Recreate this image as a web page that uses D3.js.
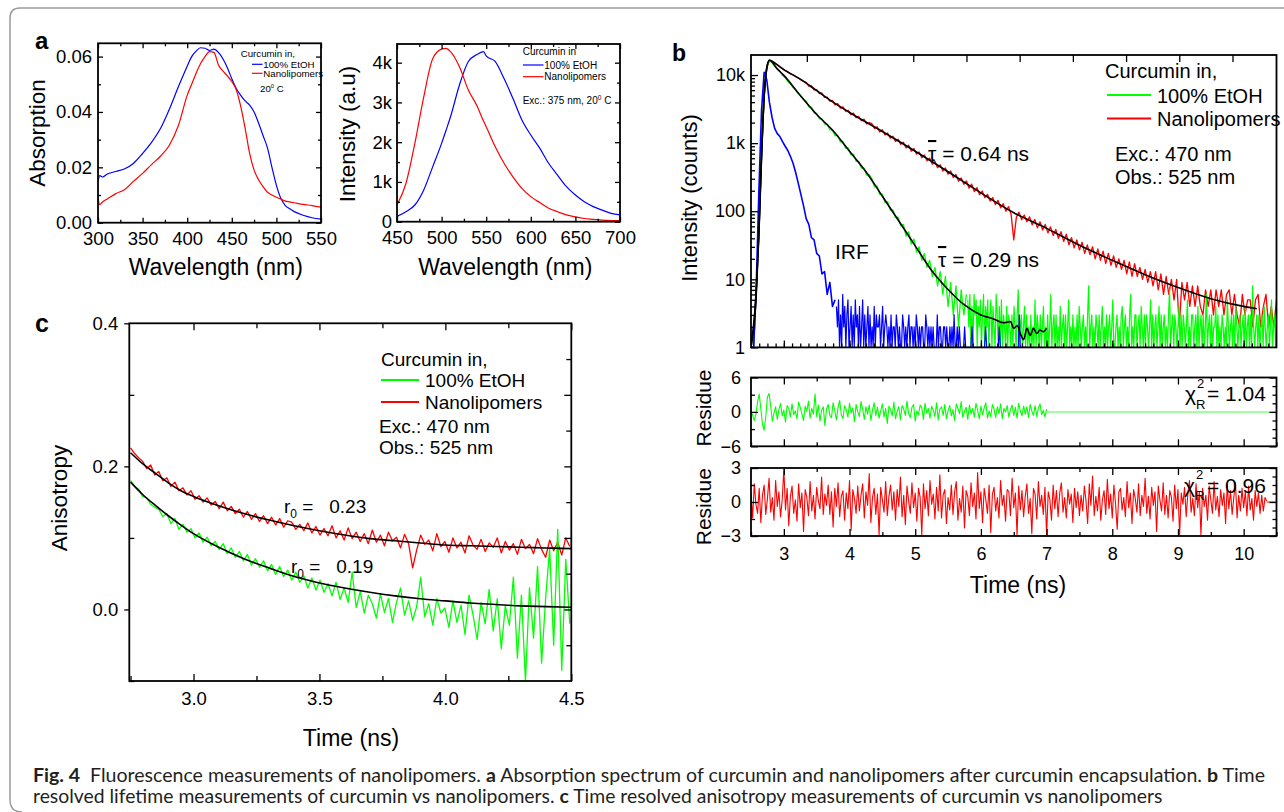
<!DOCTYPE html>
<html>
<head>
<meta charset="utf-8">
<script src="https://cdn.jsdelivr.net/npm/d3@7"></script>
<style>
body { margin: 0; background: #fff; }
svg text { font-family: "Liberation Sans", Arial, sans-serif; fill: #000; }
svg text.cap { font-family: Lato, "Open Sans", sans-serif; fill: #231f20; }
</style>
</head>
<body>
<script>
// ---------- DATA ----------
// a (left): absorption spectra
const absWl = [300,302,305,310,320,330,340,350,360,370,380,390,400,405,410,415,420,425,430,435,440,445,450,455,460,465,470,475,480,485,490,495,500,505,510,515,520,530,540,550];
const absEtOH = [0.0148,0.0170,0.0165,0.0175,0.0185,0.0195,0.0215,0.0250,0.0290,0.0340,0.0410,0.0490,0.0565,0.0600,0.0620,0.0632,0.0630,0.0622,0.0627,0.0615,0.0592,0.0560,0.0520,0.0485,0.0460,0.0440,0.0425,0.0400,0.0360,0.0315,0.0270,0.0200,0.0135,0.0088,0.0062,0.0050,0.0040,0.0027,0.0018,0.0013];
const absNano = [0.0090,0.0065,0.0075,0.0085,0.0105,0.0120,0.0150,0.0178,0.0210,0.0240,0.0280,0.0350,0.0460,0.0500,0.0540,0.0575,0.0600,0.0618,0.0615,0.0570,0.0548,0.0530,0.0510,0.0480,0.0420,0.0340,0.0250,0.0190,0.0155,0.0130,0.0110,0.0100,0.0092,0.0085,0.0078,0.0075,0.0072,0.0066,0.0062,0.0056];

// a (right): emission spectra
const emWl = [450,460,470,480,490,500,505,510,520,530,540,547,550,560,570,580,590,600,610,620,630,640,650,660,670,680,690,700];
const emEtOH = [130,250,420,800,1380,1970,2300,2640,3440,4030,4210,4280,4170,4030,3600,3100,2560,2180,1850,1470,1170,880,670,500,380,290,210,170];
const emNano = [420,960,1970,3140,4100,4340,4360,4280,3900,3310,2900,2530,2390,1890,1470,1130,840,630,480,340,250,170,120,80,60,40,30,25];

// b: decay histograms, channel grid starting at decayT0 with width decayDt (ns)
const decayT0 = 2.50, decayDt = 0.04;
const nanoCounts = [0,1,6,45,600,4800,12500,16500,
15800,14700,14200,13100,12400,11600,11200,10400,10100,9500,9050,8450,8050,
7800,6900,6950,6050,6100,5350,5450,4700,4750,4150,4230,3650,
3800,3270,3400,2940,3020,2620,2760,2360,2460,2130,2250,1920,2000,
1930,1640,1740,1460,1570,1320,1410,1180,1260,1060,1140,960,
1030,850,930,760,835,690,740,610,670,550,600,490,
540,435,480,390,432,350,390,312,346,276,308,248,
278,218,250,194,222,175,198,158,177,141,159,125,
145,112,129,100,117,90,38,82,97,75,88,70,
83,63,76,57,70,53,64,48,59,44,54,40,
50,36,46,32,41,29,38,27,35,24,32,23,
30,20,28,19,26,17,24,16,22,15,20,14,
19,12,18,11,17,11,15,10,14,9,13,8,
13,7,12,6,11,6,10,5,10,2,9,5,
9,4,8,4,8,4,3,7,4,7,3,7,
4,7,3,6,7,3,6,3,2,6,3,5,
5,2,5,6,2,4,6,2,4,2,5];
const etohCounts = [0,1,7,50,650,5000,13000,16500,
15100,13600,12200,11300,9900,9150,8050,7450,6550,6050,5350,4950,4350,
4150,3400,3380,2770,2740,2290,2280,1910,1900,1580,1540,1290,
1300,1040,1060,840,850,680,690,540,540,430,432,340,344,
300,228,235,176,178,134,138,104,105,81,82,61,
64,43,50,33,39,25,30,19,24,15,19,11,
15,8,13,6,11,4,9,3,8,2,7,3,
6];
const irfCounts = [0,1,8,200,3000,11000,8500,4000,2400,1650,1380,1250,1050,900,780,640,508,370,256,
175,120,78,64,41,38,24,22,12,13,6,9,4,5];

// b: background-level tails recorded on a finer channel grid
const etohFloorT0 = 5.80, irfFloorT0 = 3.80, floorDt = 0.016;
const etohFloor = [5,2,6,1,4,0,6,3,5,0,4,2,5,0,3,6,0,4,2,5,
0,3,5,0,4,2,0,6,3,0,4,1,5,0,3,2,0,4,0,3,
2,0,3,0,4,2,0,3,7,0,2,3,0,2,4,0,3,0,2,0,
3,0,2,0,5,0,3,2,0,3,0,2,4,0,2,0,3,0,2,6,
0,2,3,0,3,0,2,0,4,0,2,3,0,3,0,2,5,0,2,0,
3,0,2,0,3,0,4,2,0,2,3,0,2,0,3,8,0,2,3,0,
2,0,3,2,0,3,0,2,4,0,2,0,3,0,2,3,0,2,5,0,
0,2,3,0,2,0,3,4,0,2,3,0,2,0,3,6,0,2,0,3,
3,0,2,3,0,4,2,0,3,0,3,2,0,2,5,0,3,0,2,3,
0,2,4,0,3,0,2,3,0,2,0,3,7,0,2,3,0,3,2,0,
2,4,0,3,0,3,2,0,2,5,0,2,0,3,3,0,2,3,0,4,
0,2,3,0,3,0,2,6,0,2,3,0,3,0,2,2,4,0,3,0,
2,0,3,2,0,2,0,5,2,0,2,3,0,3,0,4,2,0,2,3,
0,2,3,0,4,0,2,3,0,3,0,8,2,0,2,3,0,3,0,2,
3,0,4,2,0,2,3,0,2,5,0,2,3,0];
const irfFloor = [4,2,5,1,3,0,6,2,4,1,3,5,0,2,4,1,3,0,5,2,
3,1,4,0,2,5,1,3,0,2,4,1,3,0,2,1,4,0,3,2,
2,3,0,2,4,0,2,3,2,0,2,1,3,0,2,2,0,3,2,0,
2,1,0,3,2,0,2,0,2,3,0,2,2,0,2,0,3,2,0,2,
0,2,2,0,0,3,2,0,2,0,2,0,2,1,0,0,3,0,2,2,
0,0,2,2,0,2,0,0,2,0,2,0,3,0,0,2,0,2,0,0,
1,0,2,0,0,1,0,0,0,2,0,1,0,0,0,0,1,0,0,0,
0,0,2,0,0,0,0,0,1,0,0,0,0,0,0,2,0,0,0,0,
0,0,0,0,0,1,0,0,0,0,0,0,0,0,3,0,0,0,0,0,
0,0];

// b: fitted decays
const nanoFitT = [2.50,2.58,2.62,2.66,2.70,2.74,2.78,2.90,3.00,3.25,3.50,3.75,4.00,4.50,5.00,5.50,6.00,6.50,7.00,7.50,8.00,8.50,9.00,9.50,10.00,10.20];
const nanoFitV = [1,6,45,600,4800,12500,16500,14100,12000,8700,5900,4000,2820,1480,760,380,186,95,56,31.6,19,11.7,7.6,5.2,4.0,3.7];
const etohFitT = [2.50,2.58,2.62,2.66,2.70,2.74,2.78,2.90,3.00,3.25,3.50,3.75,4.00,4.25,4.50,4.75,5.00,5.25,5.50,5.75,6.00,6.20,6.35,6.45,6.50,6.55,6.60,6.65,6.70,6.75,6.80,6.85,6.90,6.95,7.00];
const etohFitV = [1,7,50,650,5000,13000,16500,12300,9900,5000,2630,1520,760,380,166,72,31,13.5,7.1,4.2,3.0,2.6,2.3,2.4,1.9,2.1,1.6,1.3,1.9,1.5,1.9,1.6,1.8,1.7,1.9];

// b: weighted residues
const resT0 = 2.50, resDt = 0.025;
const etohRes = [0.2,-0.6,-1.5,-0.4,1.8,3.1,0.5,-2.2,-3.2,-0.8,2.6,3.2,1.0,
-1.6,-0.2,0.9,-1.3,0.4,1.5,-0.7,0.3,-1.8,1.1,0.6,-0.9,
1.4,-0.5,0.2,-1.2,1.7,0.8,-0.3,-1.5,1.0,0.1,1.9,-1.1,
0.6,-0.4,3.1,-0.8,1.2,-1.6,0.3,0.9,-2.4,0.5,1.3,-0.6,
-1.0,1.6,0.2,-1.4,0.8,2.0,-0.5,-1.2,1.1,0.4,-0.9,1.5,
-0.2,0.7,-1.7,1.3,0.0,-0.8,1.8,0.5,-1.3,0.9,-0.4,1.2,
-1.5,0.3,1.6,-0.6,0.8,-1.1,0.2,1.4,-0.9,0.6,-2.0,1.0,
0.4,-0.7,1.7,-1.2,0.1,0.9,-1.4,1.1,0.5,-0.6,1.9,-0.3,
-1.0,0.8,1.3,-1.6,0.2,-0.5,1.2,0.7,-1.3,1.5,-0.2,0.6,
-1.1,1.0,0.3,-0.8,1.6,-1.4,0.5,0.9,-0.6,1.3,-1.2,0.2,
1.1,-0.7,0.4,-1.5,1.4,0.6,-0.3,1.8,-1.0,0.1,0.8,-1.3,
1.2,-0.4,0.6,-0.9,1.5,0.3,-1.2,1.0,-0.5,0.7,1.6,-1.1,
0.2,-0.8,1.3,0.5,-1.0,0.9,-0.3,1.4,-1.2,0.6,0.0,1.1,
-0.9,0.4,1.2,-0.6,0.8,-1.1,1.5,0.2,-0.7,1.0,-0.4,0.9,
-1.0,1.3,0.1,-0.6,1.1,-0.8,0.7,1.4,-0.5,0.3,-0.9,0.5];
const nanoRes = [0.8,-1.4,1.6,-0.2,-1.0,1.2,-1.8,0.6,1.5,-1.1,0.3,2.1,-0.9,0.4,-1.6,
1.9,-0.4,0.9,-1.3,0.2,2.9,-0.7,1.2,-2.1,0.5,1.4,-1.0,0.2,-1.7,1.6,
-0.5,0.8,-2.6,1.1,0.4,-1.2,1.8,-0.8,0.6,-1.5,1.3,0.1,-0.6,2.2,-1.1,
0.7,-0.3,1.5,-1.1,0.9,-2.2,1.2,-0.4,1.7,-1.3,0.5,1.0,-1.6,0.8,-0.6,
1.9,-2.5,1.1,0.3,-1.0,1.4,-0.8,0.6,1.6,-1.4,0.9,-0.3,2.5,-1.8,0.4,
1.2,-1.1,0.7,-2.9,1.3,0.2,-0.9,1.8,-1.2,0.5,1.5,-0.7,0.9,-1.6,1.1,
-0.4,2.2,-1.3,0.6,-2.0,1.4,0.1,-1.0,1.7,-0.5,0.8,-1.7,1.2,0.4,-2.9,
1.6,-0.6,1.0,-1.2,1.9,-0.2,0.7,-1.5,1.3,-0.8,2.4,-1.4,0.6,1.1,-1.9,
0.4,-0.7,1.5,-1.1,0.9,1.8,-1.6,0.3,-0.9,1.4,-2.3,1.0,0.5,-1.2,1.7,
-0.4,0.8,-1.5,2.6,-0.6,0.9,-1.8,1.2,0.2,-1.0,1.5,-2.7,0.7,1.3,-0.8,
0.4,-1.4,1.9,-0.3,0.6,-1.7,1.1,0.9,-1.2,2.1,-0.5,0.8,-2.9,1.4,-0.7,
1.0,-1.3,0.5,1.6,-1.0,0.3,-2.8,1.2,0.7,-1.5,1.8,-0.4,0.6,-1.1,1.3,
-2.9,0.9,0.2,-1.6,1.5,-0.6,1.0,-1.3,0.8,1.7,-0.9,0.4,-1.4,1.1,-0.2,
0.7,-1.8,1.2,-0.5,0.9,-1.2,0.6,-0.8,1.4,0.1,-1.9,1.6,-0.3,2.3,-1.2,
0.5,-0.8,1.3,-1.6,0.2,1.0,-1.1,2.0,-0.6,0.7,-1.4,1.5,-0.2,-2.4,0.9,
1.2,-0.7,0.4,-1.3,1.8,-0.5,0.8,-1.9,1.1,0.3,-0.9,1.6,-1.2,0.6,-0.4,
2.1,-1.0,0.5,-1.5,1.3,-0.3,0.9,-2.6,1.4,0.2,-0.8,1.7,-1.1,0.6,-1.4,
1.0,0.4,-1.7,1.5,-0.6,1.1,-2.9,0.8,-0.2,1.3,-1.3,0.7,1.9,-0.9,0.3,
-1.2,1.6,-0.5,0.9,-2.9,1.2,-0.4,0.6,-1.6,1.4,0.2,-1.0,1.8,-0.7,0.5,
-1.3,1.1,-0.3,0.8,-1.9,1.5,-0.6,1.0,-1.1,0.4,1.7,-1.4,0.6,-0.8,1.2,
-0.5,0.9,-1.2,1.4,-0.7,0.3,-1.6,1.0,-0.4,0.8,-1.0,0.6,-0.8,0.4,0.1];
const etohResTail = [[7.0, 0], [10.5, 0]];
const nanoResTail = [[10.35, 0], [10.5, 0]];

// c: anisotropy decays
const anisoT0 = 2.75, anisoDt = 0.016;
const anisoNano = [0.226,0.218,0.212,0.207,0.197,0.202,0.188,0.193,0.180,0.184,
0.172,0.178,0.166,0.170,0.160,0.166,0.154,0.159,0.150,0.156,
0.146,0.151,0.141,0.150,0.138,0.144,0.134,0.140,0.129,0.137,
0.126,0.134,0.123,0.131,0.120,0.129,0.118,0.127,0.115,0.124,
0.122,0.112,0.119,0.110,0.121,0.107,0.116,0.104,0.113,0.103,
0.117,0.100,0.110,0.097,0.114,0.099,0.108,0.095,0.106,0.092,
0.111,0.094,0.104,0.089,0.108,0.096,0.101,0.086,0.105,0.092,
0.058,0.083,0.104,0.091,0.097,0.082,0.106,0.088,0.095,0.080,
0.100,0.086,0.094,0.079,0.103,0.090,0.084,0.098,0.081,0.093,
0.087,0.100,0.079,0.095,0.083,0.092,0.077,0.098,0.085,0.091,
0.078,0.099,0.084,0.073,0.097,0.082,0.094,0.076,0.100,0.088];
const anisoEtOH = [0.180,0.172,0.168,0.158,0.156,0.147,0.143,0.140,0.130,0.134,
0.120,0.127,0.112,0.119,0.108,0.113,0.100,0.107,0.094,0.101,
0.089,0.095,0.084,0.092,0.078,0.086,0.073,0.081,0.068,0.077,
0.062,0.071,0.059,0.068,0.054,0.063,0.049,0.060,0.046,0.055,
0.041,0.052,0.038,0.047,0.030,0.044,0.027,0.041,0.024,0.036,
0.019,0.038,0.014,0.030,0.010,0.052,0.003,0.025,-0.005,0.020,
0.008,-0.012,0.022,-0.004,0.015,-0.018,0.010,0.030,-0.008,0.012,
-0.015,0.004,0.045,-0.010,0.008,-0.022,0.015,-0.005,0.002,-0.025,
0.012,-0.018,0.006,-0.035,0.020,-0.008,-0.042,0.010,-0.020,0.028,
-0.030,0.015,-0.055,0.005,-0.022,0.045,-0.068,0.020,-0.100,0.030,
-0.040,0.060,-0.075,0.015,0.085,-0.050,0.112,-0.085,0.070,-0.020];
const anisoFitT = [2.75,2.80,2.85,2.90,2.95,3.00,3.10,3.20,3.30,3.40,3.50,3.60,3.70,3.80,3.90,4.00,4.10,4.20,4.30,4.40,4.50];
const anisoNanoFit = [0.219,0.203,0.190,0.177,0.166,0.158,0.145,0.134,0.125,0.117,0.110,0.104,0.099,0.096,0.093,0.090,0.089,0.088,0.087,0.086,0.085];
const anisoEtOHFit = [0.178,0.160,0.145,0.131,0.118,0.106,0.087,0.071,0.058,0.046,0.037,0.030,0.024,0.019,0.015,0.012,0.009,0.007,0.005,0.004,0.003];

// tick values
const bTopTicks = [3.35, 4.16, 4.97, 5.78, 6.59, 7.40, 8.21, 9.02, 9.83];

// ---------- SVG ----------
const svg = d3.select('body').append('svg').attr('width', 1284).attr('height', 812);

// figure box
svg.append('path')
  .attr('d', 'M22,812 Q10,812 10,800 V18 Q10,8 20,8 H1290')
  .attr('fill', 'none').attr('stroke', '#9a9a9a').attr('stroke-width', 1.5);

// SCALES
const a1x = d3.scaleLinear().domain([300, 550]).range([98, 321]);
const a1y = d3.scaleLinear().domain([0, 0.0648]).range([222.7, 43.3]);
const a2x = d3.scaleLinear().domain([450, 700]).range([397, 620]);
const a2y = d3.scaleLinear().domain([0, 4470]).range([221.7, 44]);
const bx = d3.scaleLinear().domain([2.5, 10.5]).range([751, 1276.5]);
const by = d3.scaleLog().domain([1, 19700]).range([347.4, 55]).clamp(true);
const r1y = d3.scaleLinear().domain([-6, 6]).range([446.3, 377.5]);
const r2y = d3.scaleLinear().domain([-3, 3]).range([536, 468]);
const cx = d3.scaleLinear().domain([2.745, 4.5]).range([129.3, 571.3]);
const cy = d3.scaleLinear().domain([-0.1, 0.4]).range([681, 323.3]);

let clipN = 0;
function plotArea(x, y) {
  const id = 'clip' + (clipN++);
  const [x0, x1] = x.range(), [y0, y1] = y.range();
  svg.append('clipPath').attr('id', id).append('rect')
    .attr('x', x0).attr('y', y1).attr('width', x1 - x0).attr('height', y0 - y1);
  return svg.append('g').attr('clip-path', `url(#${id})`);
}

function frameAxes(x, y, o) {
  const g = svg.append('g');
  const [x0, x1] = x.range(), [y0, y1] = y.range();
  g.append('rect').attr('x', x0).attr('y', y1).attr('width', x1 - x0).attr('height', y0 - y1)
    .attr('fill', 'none').attr('stroke', '#000').attr('stroke-width', 1.8);
  const add = (gen, tr, vals, size, fmt, pad) => {
    const a = g.append('g').attr('transform', tr)
      .call(gen.tickValues(vals).tickSize(size).tickPadding(pad || 0).tickFormat(fmt || (() => '')));
    a.select('.domain').remove();
    a.attr('font-size', o.fs).attr('font-family', null);
    a.selectAll('line').attr('stroke-width', 1.3);
  };
  if (o.xMaj) add(d3.axisBottom(x), `translate(0,${y0})`, o.xMaj, -o.maj, o.xFmt, o.xPad);
  if (o.xMin) add(d3.axisBottom(x), `translate(0,${y0})`, o.xMin, -o.min);
  if (o.tMaj) add(d3.axisTop(x), `translate(0,${y1})`, o.tMaj, -o.maj);
  if (o.tMin) add(d3.axisTop(x), `translate(0,${y1})`, o.tMin, -o.min);
  if (o.yMaj) add(d3.axisLeft(y), `translate(${x0},0)`, o.yMaj, o.yOut ? o.yOut : -o.maj, o.yFmt, o.yPad);
  if (o.yMin) add(d3.axisLeft(y), `translate(${x0},0)`, o.yMin, -o.min);
  if (o.rMaj) add(d3.axisRight(y), `translate(${x1},0)`, o.rMaj, -o.maj);
  if (o.rMin) add(d3.axisRight(y), `translate(${x1},0)`, o.rMin, -o.min);
}

function txt(x, y, s, fs, anchor) {
  return svg.append('text').attr('x', x).attr('y', y).attr('font-size', fs)
    .attr('text-anchor', anchor || 'start').text(s);
}
function vtxt(x, y, s, fs) {
  return svg.append('text').attr('transform', `translate(${x},${y}) rotate(-90)`)
    .attr('font-size', fs).attr('text-anchor', 'middle').text(s);
}
function legLine(x1, x2, y, color, w) {
  svg.append('line').attr('x1', x1).attr('x2', x2).attr('y1', y).attr('y2', y)
    .attr('stroke', color).attr('stroke-width', w || 1.2);
}
function path(g, data, line, color, w) {
  g.append('path').datum(data).attr('d', line).attr('fill', 'none')
    .attr('stroke', color).attr('stroke-width', w).attr('stroke-linejoin', 'round');
}

// ========== PANEL a (left) ==========
{
  const g = plotArea(a1x, a1y);
  const line = d3.line().x((d, i) => a1x(absWl[i])).y(d => a1y(d)).curve(d3.curveMonotoneX);
  path(g, absEtOH, line, '#0000ff', 1.2);
  path(g, absNano, line, '#ff0000', 1.2);
  frameAxes(a1x, a1y, {
    fs: 18.5, maj: 5, min: 3,
    xMaj: [300, 350, 400, 450, 500, 550], xMin: [325, 375, 425, 475, 525], xFmt: d3.format('d'), xPad: 9,
    tMaj: [300, 350, 400, 450, 500, 550], tMin: [325, 375, 425, 475, 525],
    yMaj: [0, 0.02, 0.04, 0.06], yMin: [0.01, 0.03, 0.05], yFmt: d3.format('.2f'), yPad: 6,
    rMaj: [0, 0.02, 0.04, 0.06], rMin: [0.01, 0.03, 0.05]
  });
  vtxt(45, 133, 'Absorption', 22.5);
  txt(215.8, 275, 'Wavelength (nm)', 23, 'middle');
  txt(35, 49, 'a', 24).attr('font-weight', 'bold');
  txt(240.7, 56.8, 'Curcumin in,', 9.7);
  legLine(252, 262.5, 64.3, '#0000ff');
  txt(263.3, 67.8, '100% EtOH', 9.7);
  legLine(252, 262.5, 73.3, '#ff0000');
  txt(263.3, 76.8, 'Nanolipomers', 9.7);
  const t = txt(260, 91.5, '20', 9.7);
  t.append('tspan').attr('font-size', 6).attr('dy', -4).text('0');
  t.append('tspan').attr('dy', 4).text(' C');
}

// ========== PANEL a (right) ==========
{
  const g = plotArea(a2x, a2y);
  const line = d3.line().x((d, i) => a2x(emWl[i])).y(d => a2y(d)).curve(d3.curveMonotoneX);
  path(g, emEtOH, line, '#0000ff', 1.2);
  path(g, emNano, line, '#ff0000', 1.2);
  const kFmt = v => v === 0 ? '0' : (v / 1000) + 'k';
  frameAxes(a2x, a2y, {
    fs: 18.5, maj: 5, min: 3,
    xMaj: [450, 500, 550, 600, 650, 700], xMin: [475, 525, 575, 625, 675], xFmt: d3.format('d'), xPad: 9,
    tMaj: [450, 500, 550, 600, 650, 700], tMin: [475, 525, 575, 625, 675],
    yMaj: [0, 1000, 2000, 3000, 4000], yMin: [500, 1500, 2500, 3500], yFmt: kFmt, yPad: 5,
    rMaj: [0, 1000, 2000, 3000, 4000], rMin: [500, 1500, 2500, 3500]
  });
  vtxt(354.5, 134, 'Intensity (a.u)', 22.5);
  txt(505.3, 275, 'Wavelength (nm)', 23, 'middle');
  txt(522.7, 55.2, 'Curcumin in', 10);
  legLine(523, 543.5, 65, '#0000ff');
  txt(544.3, 68.5, '100% EtOH', 10);
  legLine(523, 543.5, 76.7, '#ff0000');
  txt(544.3, 80.2, 'Nanolipomers', 10);
  const t = txt(522.7, 103.5, 'Exc.: 375 nm, 20', 10);
  t.append('tspan').attr('font-size', 6.5).attr('dy', -4).text('0');
  t.append('tspan').attr('dy', 4).text(' C');
}

// ========== PANEL b (decays) ==========
{
  const g = plotArea(bx, by);
  const line = d3.line().x((d, i) => bx(decayT0 + i * decayDt)).y(d => by(d));
  const lineFloor = t0 => d3.line().x((d, i) => bx(t0 + i * floorDt)).y(d => by(d));
  const fitLine = d3.line().x(d => bx(d[0])).y(d => by(d[1])).curve(d3.curveMonotoneX);
  path(g, nanoCounts, line, '#ff0000', 1.3);
  path(g, etohCounts, line, '#00ff00', 1.3);
  path(g, etohFloor, lineFloor(etohFloorT0), '#00ff00', 1.2);
  path(g, irfCounts, line, '#0000ff', 1.6);
  path(g, irfFloor, lineFloor(irfFloorT0), '#0000ff', 1.2);
  path(g, nanoFitT.map((t, i) => [t, nanoFitV[i]]), fitLine, '#000', 1.6);
  path(g, etohFitT.map((t, i) => [t, etohFitV[i]]), fitLine, '#000', 1.6);

  const logMinor = [];
  [1, 10, 100, 1000, 10000].forEach(dec => [2, 3, 4, 5, 6, 7, 8, 9].forEach(m => { if (dec * m < 19700) logMinor.push(dec * m); }));
  const cFmt = v => v >= 1000 ? (v / 1000) + 'k' : String(v);
  frameAxes(bx, by, {
    fs: 18, maj: 7, min: 4,
    xMaj: [3, 4, 5, 6, 7, 8, 9, 10], xMin: d3.range(2.625, 10.5, 0.125),
    tMaj: bTopTicks,
    yMaj: [1, 10, 100, 1000, 10000], yMin: logMinor, yFmt: cFmt, yPad: 6
  });
  vtxt(697, 198, 'Intensity (counts)', 22);
  txt(672, 61, 'b', 23).attr('font-weight', 'bold');

  txt(1105, 77.5, 'Curcumin in,', 20);
  legLine(1107, 1151, 95, '#00ff00', 2);
  txt(1157, 102.5, '100% EtOH', 20);
  legLine(1107, 1151, 118.6, '#ff0000', 2);
  txt(1157, 126, 'Nanolipomers', 20);
  txt(1115, 160.5, 'Exc.: 470 nm', 20);
  txt(1115, 184, 'Obs.: 525 nm', 20);

  const tau1 = txt(928, 161, '', 21);
  tau1.append('tspan').attr('text-decoration', 'overline').text('τ');
  tau1.append('tspan').text(' = 0.64 ns');
  const tau2 = txt(938, 267, '', 21);
  tau2.append('tspan').attr('text-decoration', 'overline').text('τ');
  tau2.append('tspan').text(' = 0.29 ns');
  txt(835, 258.5, 'IRF', 21);
}

// ========== PANEL b (residues) ==========
{
  const resLine = y => d3.line().x((d, i) => bx(resT0 + i * resDt)).y(d => y(d));
  const tailLine = y => d3.line().x(d => bx(d[0])).y(d => y(d[1]));

  const g1 = plotArea(bx, r1y);
  path(g1, etohResTail, tailLine(r1y), '#80ff80', 1.5);
  path(g1, etohRes, resLine(r1y), '#00ff00', 1.1);
  frameAxes(bx, r1y, {
    fs: 18, maj: 7, min: 4,
    xMaj: [3, 4, 5, 6, 7, 8, 9, 10], xMin: [2.5, 3.5, 4.5, 5.5, 6.5, 7.5, 8.5, 9.5, 10.5],
    tMaj: [3, 4, 5, 6, 7, 8, 9, 10], tMin: [3.5, 4.5, 5.5, 6.5, 7.5, 8.5, 9.5],
    yMaj: [-6, 0, 6], yMin: [-3, 3], yFmt: d3.format('d'), yPad: 10,
    rMaj: [-6, 0, 6], rMin: [-4.5, -3, -1.5, 1.5, 3, 4.5]
  });
  txt(1185, 401, 'χ', 21);
  txt(1197, 388, '2', 13);
  txt(1196, 409, 'R', 13);
  txt(1207, 401, '= 1.04', 21);

  const g2 = plotArea(bx, r2y);
  path(g2, nanoResTail, tailLine(r2y), '#ff0000', 1);
  path(g2, nanoRes, resLine(r2y), '#ff0000', 1.1);
  frameAxes(bx, r2y, {
    fs: 18, maj: 7, min: 4,
    xMaj: [3, 4, 5, 6, 7, 8, 9, 10], xMin: [2.5, 3.5, 4.5, 5.5, 6.5, 7.5, 8.5, 9.5, 10.5], xFmt: d3.format('d'), xPad: 11,
    tMaj: [3, 4, 5, 6, 7, 8, 9, 10], tMin: [3.5, 4.5, 5.5, 6.5, 7.5, 8.5, 9.5],
    yMaj: [-3, 0, 3], yMin: [-1.5, 1.5], yFmt: d3.format('d'), yPad: 10,
    rMaj: [-3, 0, 3], rMin: [-2.25, -1.5, -0.75, 0.75, 1.5, 2.25]
  });
  txt(1184, 492.5, 'χ', 21);
  txt(1196, 479, '2', 13);
  txt(1195, 500, 'R', 13);
  txt(1207, 492.5, '= 0.96', 21);

  vtxt(711, 408, 'Residue', 21);
  vtxt(711, 506.7, 'Residue', 21);
  txt(1018, 593, 'Time (ns)', 23, 'middle');
}

// ========== PANEL c ==========
{
  const g = plotArea(cx, cy);
  const line = d3.line().x((d, i) => cx(anisoT0 + i * anisoDt)).y(d => cy(d));
  const fitLine = d3.line().x((d, i) => cx(anisoFitT[i])).y(d => cy(d)).curve(d3.curveMonotoneX);
  path(g, anisoNano, line, '#ff0000', 1.3);
  path(g, anisoEtOH, line, '#00ff00', 1.3);
  path(g, anisoNanoFit, fitLine, '#000', 1.6);
  path(g, anisoEtOHFit, fitLine, '#000', 1.6);
  frameAxes(cx, cy, {
    fs: 18.5, maj: 7, min: 5,
    xMaj: [3.0, 3.5, 4.0, 4.5], xMin: [2.75, 3.25, 3.75, 4.25], xFmt: d3.format('.1f'), xPad: 11,
    tMaj: [3.0, 3.5, 4.0, 4.5], tMin: [3.25, 3.75, 4.25],
    yMaj: [0, 0.2, 0.4], yOut: 5, yMin: [-0.1, 0.1, 0.3], yFmt: d3.format('.1f'), yPad: 6,
    rMaj: [0, 0.1, 0.2, 0.3], rMin: [-0.05, 0.05, 0.15, 0.25, 0.35]
  });
  vtxt(67, 498, 'Anisotropy', 22.5);
  txt(351, 746, 'Time (ns)', 23, 'middle');
  txt(35, 332, 'c', 25).attr('font-weight', 'bold');

  txt(381, 365.5, 'Curcumin in,', 19);
  legLine(381, 419, 380, '#00ff00', 2);
  txt(425, 387, '100% EtOH', 19);
  legLine(381, 419, 402, '#ff0000', 2);
  txt(425, 409, 'Nanolipomers', 19);
  txt(379, 433.4, 'Exc.: 470 nm', 19);
  txt(379, 454, 'Obs.: 525 nm', 19);

  const r1 = txt(284, 513, 'r', 19);
  r1.append('tspan').attr('font-size', 12).attr('dy', 5).text('0');
  r1.append('tspan').attr('dy', -5).text(' =\u00a0\u00a0\u00a00.23');
  const r2 = txt(291, 573, 'r', 19);
  r2.append('tspan').attr('font-size', 12).attr('dy', 5).text('0');
  r2.append('tspan').attr('dy', -5).text(' =\u00a0\u00a0\u00a00.19');
}

// ========== CAPTION ==========
{
  const capLine = (y, parts, width) => {
    const t = svg.append('text').attr('class', 'cap').attr('x', 33).attr('y', y).attr('font-size', 17);
    parts.forEach(p => t.append('tspan').attr('font-weight', p[1] ? 'bold' : null).text(p[0]));
    const w = t.node().getComputedTextLength();
    if (w > 0) t.attr('font-size', (17 * width / w).toFixed(2));
  };
  capLine(781.5, [['Fig. 4', 1], ['\u00a0 Fluorescence measurements of nanolipomers. '], ['a', 1],
    [' Absorption spectrum of curcumin and nanolipomers after curcumin encapsulation. '], ['b', 1], [' Time']], 1233);
  capLine(802.5, [['resolved lifetime measurements of curcumin vs nanolipomers. '], ['c', 1],
    [' Time resolved anisotropy measurements of curcumin vs nanolipomers']], 1130);
}
</script>
</body>
</html>
